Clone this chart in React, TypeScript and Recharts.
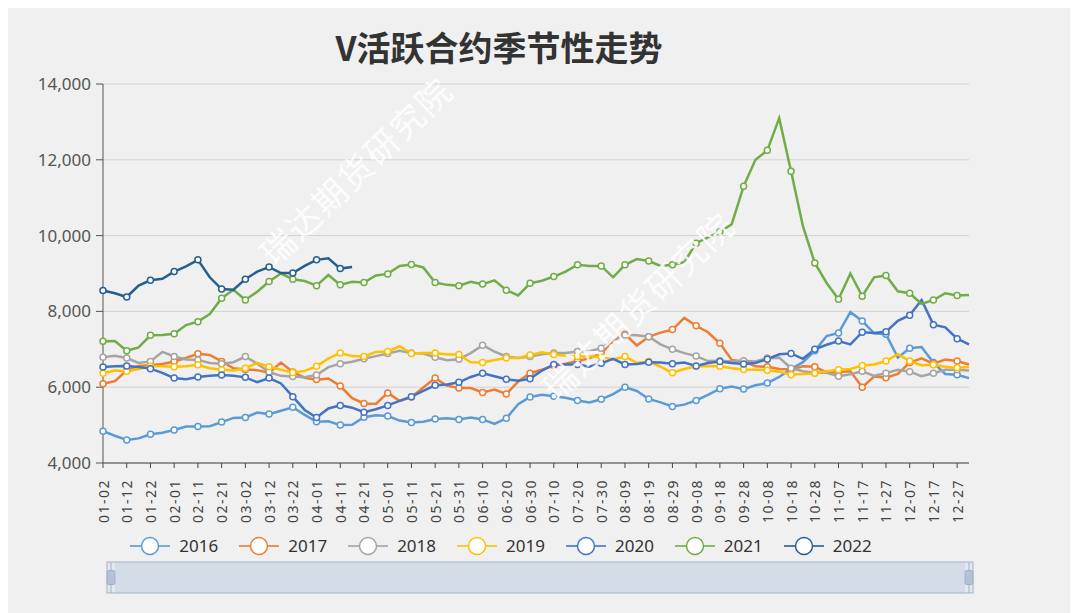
import React from 'react';
import { LineChart, Line, XAxis, YAxis, CartesianGrid, Brush } from 'recharts';

// every 5 days of a (leap) year, labels shown every 10 days
const DATES = [
  '01-02', '01-07', '01-12', '01-17', '01-22', '01-27', '02-01', '02-06', '02-11', '02-16', '02-21', '02-26',
  '03-02', '03-07', '03-12', '03-17', '03-22', '03-27', '04-01', '04-06', '04-11', '04-16', '04-21', '04-26',
  '05-01', '05-06', '05-11', '05-16', '05-21', '05-26', '05-31', '06-05', '06-10', '06-15', '06-20', '06-25',
  '06-30', '07-05', '07-10', '07-15', '07-20', '07-25', '07-30', '08-04', '08-09', '08-14', '08-19', '08-24',
  '08-29', '09-03', '09-08', '09-13', '09-18', '09-23', '09-28', '10-03', '10-08', '10-13', '10-18', '10-23',
  '10-28', '11-02', '11-07', '11-12', '11-17', '11-22', '11-27', '12-02', '12-07', '12-12', '12-17', '12-22',
  '12-27', '12-31',
];

const Y2016 = [
  4840, 4720, 4610, 4650, 4760, 4800, 4870, 4960, 4960, 4970, 5080, 5190, 5200, 5330, 5290, 5380, 5470, 5270, 5090,
  5100, 5000, 5010, 5210, 5260, 5240, 5120, 5070, 5090, 5160, 5180, 5150, 5200, 5150, 5030, 5180, 5550, 5740,
  5800, 5760, 5720, 5650, 5600, 5680, 5820, 6000, 5900, 5690, 5600, 5490, 5540, 5650, 5800, 5960, 6020, 5950, 6050,
  6110, 6270, 6480, 6660, 6960, 7350, 7430, 7980, 7750, 7420, 7400, 6780, 7030, 7060, 6650, 6350, 6330, 6240,
];
const Y2017 = [
  6090, 6160, 6440, 6560, 6580, 6610, 6680, 6770, 6880, 6850, 6680, 6500, 6470, 6450, 6380, 6650, 6400, 6250, 6200,
  6230, 6030, 5710, 5570, 5560, 5850, 5640, 5740, 5990, 6240, 6040, 5980, 5980, 5860, 5940, 5820, 6150, 6370,
  6460, 6570, 6620, 6690, 6760, 6890, 7230, 7400, 7100, 7330, 7440, 7520, 7830, 7620, 7450, 7160, 6720, 6680, 6550,
  6540, 6480, 6470, 6550, 6540, 6390, 6400, 6420, 6000, 6280, 6250, 6350, 6650, 6760, 6620, 6730, 6690, 6600,
];
const Y2018 = [
  6790, 6830, 6770, 6640, 6680, 6930, 6810, 6730, 6720, 6640, 6620, 6660, 6810, 6620, 6400, 6300, 6280, 6260, 6320,
  6530, 6620, 6670, 6750, 6820, 6890, 6960, 6900, 6890, 6790, 6710, 6740, 6900, 7110, 6940, 6810, 6770, 6810,
  6870, 6900, 6900, 6940, 6950, 7030, 7250, 7380, 7370, 7330, 7130, 7000, 6900, 6820, 6690, 6700, 6680, 6700, 6680,
  6770, 6780, 6500, 6420, 6380, 6380, 6290, 6340, 6420, 6300, 6370, 6460, 6410, 6290, 6370, 6460, 6460, 6440,
];
const Y2019 = [
  6370, 6440, 6420, 6480, 6550, 6550, 6540, 6550, 6590, 6500, 6460, 6440, 6500, 6640, 6540, 6460, 6390, 6430, 6550,
  6760, 6900, 6820, 6810, 6930, 6940, 7080, 6890, 6900, 6900, 6860, 6860, 6660, 6650, 6720, 6770, 6770, 6850,
  6920, 6860, 6830, 6810, 6810, 6800, 6730, 6810, 6640, 6680, 6540, 6380, 6480, 6550, 6560, 6550, 6500, 6470, 6460,
  6450, 6410, 6330, 6350, 6370, 6420, 6460, 6480, 6570, 6600, 6690, 6870, 6690, 6580, 6590, 6540, 6510, 6530,
];
const Y2020 = [
  6530, 6550, 6560, 6530, 6490, 6380, 6240, 6210, 6270, 6300, 6320, 6300, 6260, 6130, 6240, 6100, 5750, 5400, 5200,
  5440, 5520, 5460, 5340, 5420, 5520, 5640, 5750, 5900, 6050, 6070, 6130, 6270, 6370, 6290, 6210, 6170, 6220,
  6440, 6600, 6600, 6600, 6540, 6630, 6750, 6600, 6610, 6660, 6650, 6620, 6650, 6560, 6640, 6680, 6640, 6610, 6640,
  6740, 6870, 6890, 6750, 7000, 7120, 7220, 7130, 7450, 7430, 7460, 7750, 7900, 8300, 7650, 7580, 7280, 7130,
];
const Y2021 = [
  7210, 7220, 6960, 7050, 7370, 7380, 7410, 7640, 7730, 7930, 8350, 8570, 8300, 8520, 8790, 9000, 8850, 8800, 8680,
  8960, 8700, 8780, 8760, 8950, 8990, 9200, 9240, 9160, 8760, 8700, 8680, 8780, 8720, 8820, 8560, 8420, 8740,
  8810, 8920, 9050, 9230, 9200, 9200, 8900, 9230, 9380, 9330, 9200, 9230, 9300, 9800, 9950, 10100, 10300, 11300, 12000,
  12250, 13100, 11700, 10250, 9280, 8750, 8320, 9000, 8400, 8900, 8950, 8530, 8480, 8200, 8300, 8480, 8420, 8430,
];
const Y2022 = [
  8550, 8480, 8380, 8680, 8820, 8860, 9050, 9190, 9360, 8900, 8590, 8570, 8850, 9050, 9170, 9010, 9010, 9200, 9360,
  9400, 9130, 9170,
];

const SERIES = [
  { key: 'y2016', name: '2016', color: '#5b9bd5', values: Y2016 },
  { key: 'y2017', name: '2017', color: '#ed7d31', values: Y2017 },
  { key: 'y2018', name: '2018', color: '#a5a5a5', values: Y2018 },
  { key: 'y2019', name: '2019', color: '#ffc000', values: Y2019 },
  { key: 'y2020', name: '2020', color: '#4472c4', values: Y2020 },
  { key: 'y2021', name: '2021', color: '#70ad47', values: Y2021 },
  { key: 'y2022', name: '2022', color: '#255e91', values: Y2022 },
];

const Y_TICKS = [4000, 6000, 8000, 10000, 12000, 14000];

const data = DATES.map((date, i) => {
  const row: Record<string, any> = { date };
  SERIES.forEach((s) => {
    row[s.key] = s.values[i] ?? null;
  });
  return row;
});

const makeDot = (color: string) => (props: any) => {
  const { cx, cy, index } = props;
  if (cx == null || cy == null || index % 2 !== 0) return <g key={`dot-${index}`} />;
  return <circle key={`dot-${index}`} cx={cx} cy={cy} r={3} fill="#fff" stroke={color} strokeWidth={1.5} />;
};

const XTick = (props: any) => {
  const { x, y, payload } = props;
  return (
    <g transform={`translate(${x},${y})`}>
      <text
        transform="rotate(-90)"
        x={-9}
        y={0}
        textAnchor="end"
        dominantBaseline="central"
        fill="#444"
        fontSize={14}
        letterSpacing={1.5}
      >
        {payload.value}
      </text>
    </g>
  );
};

const Handle = (props: any) => {
  const { x, y, width, height } = props;
  const mid = x + width / 2;
  return (
    <g>
      <line x1={mid} x2={mid} y1={y} y2={y + height} stroke="#9fb1c8" strokeWidth={1} />
      <rect x={x} y={y + height / 2 - 7} width={width} height={14} rx={2} fill="#b4c2d5" stroke="#9fb1c8" />
    </g>
  );
};

const watermark: React.CSSProperties = {
  position: 'absolute',
  transform: 'translate(-50%, -50%) rotate(-44deg)',
  color: 'rgba(255,255,255,0.85)',
  fontSize: 34,
  letterSpacing: 2,
  whiteSpace: 'nowrap',
  fontFamily: '"Noto Sans CJK SC", sans-serif',
  pointerEvents: 'none',
};

export default function App() {
  return (
    <div
      style={{
        position: 'relative',
        width: 1070,
        height: 605,
        background: '#f0f0f0',
        fontFamily: '"Noto Sans", "Noto Sans CJK SC", sans-serif',
      }}
    >
      <div
        style={{
          position: 'absolute',
          left: 0,
          top: 20,
          width: 982,
          textAlign: 'center',
          fontSize: 34,
          lineHeight: '38px',
          fontWeight: 'bold',
          color: '#333',
          fontFamily: '"Noto Sans CJK SC", sans-serif',
        }}
      >
        V活跃合约季节性走势
      </div>

      <LineChart width={1070} height={605} data={data} margin={{ top: 76, right: 109, left: 35, bottom: 69 }}>
        <CartesianGrid horizontal vertical={false} stroke="#d2d2d2" />
        <XAxis
          dataKey="date"
          interval={1}
          height={50}
          tickSize={5}
          stroke="#444"
          tick={<XTick />}
        />
        <YAxis
          domain={[4000, 14000]}
          ticks={Y_TICKS}
          allowDataOverflow
          width={60}
          tickSize={7}
          tickMargin={5}
          stroke="#555"
          tick={{ fill: '#555', fontSize: 17 }}
          tickFormatter={(v: number) => v.toLocaleString('en-US')}
        />
        {SERIES.map((s) => (
          <Line
            key={s.key}
            type="linear"
            dataKey={s.key}
            name={s.name}
            stroke={s.color}
            strokeWidth={2.5}
            dot={makeDot(s.color)}
            activeDot={false}
            isAnimationActive={false}
          />
        ))}
        <Brush
          dataKey="date"
          x={99}
          y={554}
          width={866}
          height={31}
          fill="#e2e8ef"
          stroke="#9fb1c8"
          travellerWidth={8}
          traveller={<Handle />}
        />
      </LineChart>

      <div
        style={{
          position: 'absolute',
          left: 0,
          top: 527,
          width: 986,
          height: 22,
          display: 'flex',
          justifyContent: 'center',
          alignItems: 'center',
          gap: 21,
        }}
      >
        {SERIES.map((s) => (
          <div key={s.key} style={{ display: 'flex', alignItems: 'center' }}>
            <svg width={40} height={22}>
              <line x1={0} x2={40} y1={11} y2={11} stroke={s.color} strokeWidth={2} opacity={0.8} />
              <circle cx={20} cy={11} r={8.5} fill="#fff" stroke={s.color} strokeWidth={1.5} />
            </svg>
            <span style={{ marginLeft: 9, fontSize: 17, color: '#333', lineHeight: '22px' }}>{s.name}</span>
          </div>
        ))}
      </div>

      <div style={{ ...watermark, left: 347, top: 162 }}>瑞达期货研究院</div>
      <div style={{ ...watermark, left: 629, top: 297 }}>瑞达期货研究院</div>
    </div>
  );
}
